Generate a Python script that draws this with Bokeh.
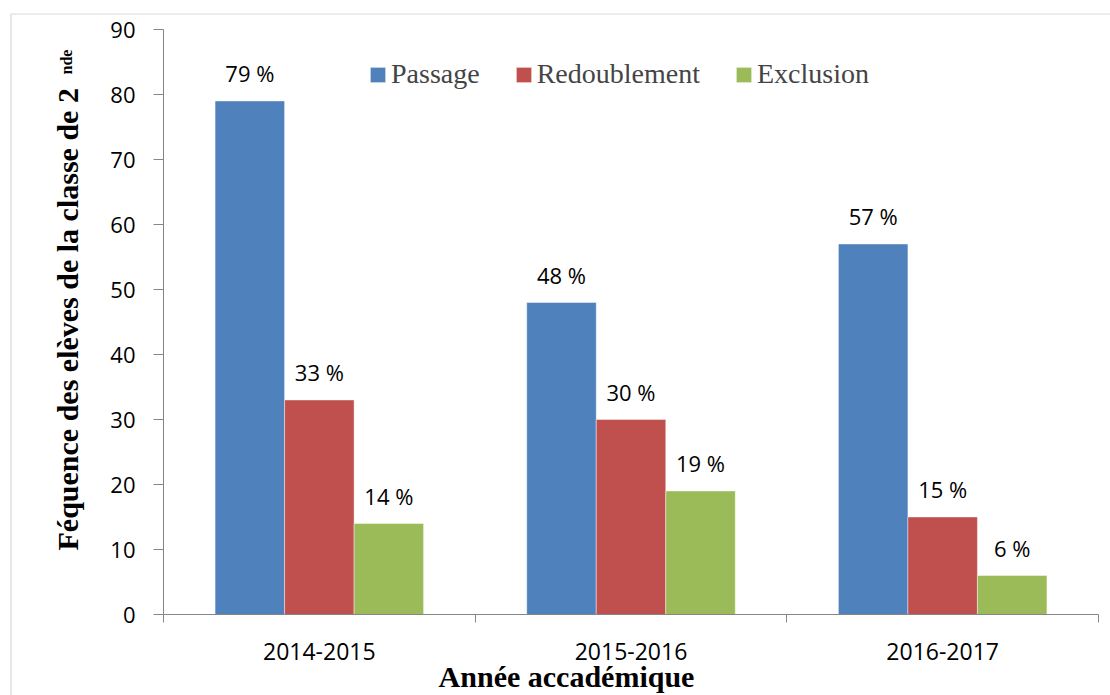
import math
from bokeh.plotting import figure
from bokeh.models import (FixedTicker, Label, Legend, LegendItem, ColumnDataSource,
                          Range1d, BoxAnnotation)
from bokeh.core.properties import value
from bokeh.embed import file_html
from bokeh.resources import INLINE

# ---- data ----
years = ["2014-2015", "2015-2016", "2016-2017"]
series = ["Passage", "Redoublement", "Exclusion"]
passage = [79, 48, 57]
redoublement = [33, 30, 15]
exclusion = [14, 19, 6]
colors = ["#4F81BD", "#C0504D", "#9BBB59"]
y_ticks = [0, 10, 20, 30, 40, 50, 60, 70, 80, 90]
y_max = 90
y_title = "Féquence des elèves de la classe de 2"
y_title_sup = "nde"
x_title = "Année accadémique"

SANS = "Open Sans"
SERIF = "Liberation Serif"
AXIS_GRAY = "#868686"

# ---- layout (canvas pixels) ----
W, H = 1110, 695
AX_LEFT, AX_RIGHT = 163, 1098      # pixel of x = 0 and x = n
AX_TOP, AX_BOTTOM = 29, 614        # pixel of y = y_max and y = 0
n = len(years)
ppx = (AX_RIGHT - AX_LEFT) / n
ppy = (AX_BOTTOM - AX_TOP) / y_max
x_range = Range1d(-AX_LEFT / ppx, n + (W - AX_RIGHT) / ppx)
y_range = Range1d(-(H - AX_BOTTOM) / ppy, y_max + AX_TOP / ppy)

p = figure(width=W, height=H, output_backend="svg", toolbar_location=None,
           x_range=x_range, y_range=y_range, min_border=0)
p.outline_line_color = None
p.xgrid.visible = False
p.ygrid.visible = False
p.background_fill_color = "white"
p.border_fill_color = "white"

# outer chart-area frame (only left/top edges visible, like the reference)
p.add_layout(BoxAnnotation(left=10.5, right=3000, top=H - 13.5, bottom=-300,
                           left_units="screen", right_units="screen",
                           top_units="screen", bottom_units="screen",
                           fill_alpha=0, line_color="#7f7f7f", line_width=1.2,
                           level="underlay"))

centers = [i + 0.5 for i in range(n)]
bw = 0.223
offsets = [-bw, 0.0, bw]
items = []
for k, (name, vals, col) in enumerate(zip(series, [passage, redoublement, exclusion], colors)):
    xs = [c + offsets[k] for c in centers]
    src = ColumnDataSource(dict(x=xs, top=vals, lab=[f"{v} %" for v in vals]))
    r = p.vbar(x="x", top="top", bottom=0, width=bw, source=src,
               fill_color=col, line_color="white", line_width=0.6, line_alpha=0.7)
    p.text(x="x", y="top", text="lab", source=src, text_align="center",
           text_baseline="alphabetic", y_offset=-28,
           text_font=value(SANS), text_font_size="22px", text_color="black")
    items.append(LegendItem(label=name, renderers=[r]))

# x axis
xa = p.xaxis[0]
xa.fixed_location = 0
xa.bounds = (0, n)
xa.ticker = FixedTicker(ticks=centers, minor_ticks=list(range(n + 1)))
xa.major_label_overrides = {c: y for c, y in zip(centers, years)}
xa.major_tick_in = 0
xa.major_tick_out = 0
xa.minor_tick_in = 0
xa.minor_tick_out = 8
xa.minor_tick_line_color = AXIS_GRAY
xa.axis_line_color = AXIS_GRAY
xa.major_label_standoff = 20
xa.major_label_text_font = SANS
xa.major_label_text_font_size = "23px"
xa.major_label_text_color = "black"

# y axis
ya = p.yaxis[0]
ya.fixed_location = 0
ya.bounds = (0, y_max)
ya.ticker = FixedTicker(ticks=y_ticks)
ya.major_tick_in = 0
ya.major_tick_out = 10
ya.minor_tick_line_color = None
ya.major_tick_line_color = AXIS_GRAY
ya.axis_line_color = AXIS_GRAY
ya.major_label_standoff = 18
ya.major_label_text_font = SANS
ya.major_label_text_font_size = "22px"
ya.major_label_text_color = "black"

# legend
legend = Legend(items=items, orientation="horizontal", location=(368, 605),
                label_text_font=SERIF, label_text_font_size="28px",
                glyph_width=19, glyph_height=19, label_standoff=4, spacing=34,
                padding=0, margin=0, border_line_color=None,
                background_fill_alpha=0)
p.add_layout(legend)

# axis titles (screen units, frame == canvas)
p.add_layout(Label(x=67, y=H - 550, x_units="screen", y_units="screen", text=y_title,
                   angle=math.pi / 2, text_align="left", text_baseline="alphabetic",
                   text_font=SERIF, text_font_style="bold", text_font_size="30px",
                   text_color="black"))
p.add_layout(Label(x=66, y=H - 74, x_units="screen", y_units="screen", text=y_title_sup,
                   angle=math.pi / 2, text_align="left", text_baseline="alphabetic",
                   text_font=SERIF, text_font_style="bold", text_font_size="16px",
                   text_color="black"))
p.add_layout(Label(x=566, y=H - 676, x_units="screen", y_units="screen",
                   text=x_title, text_align="center", text_baseline="alphabetic",
                   text_font=SERIF, text_font_style="bold", text_font_size="30px",
                   text_color="black"))

open("out.html", "w").write(file_html(p, INLINE))
